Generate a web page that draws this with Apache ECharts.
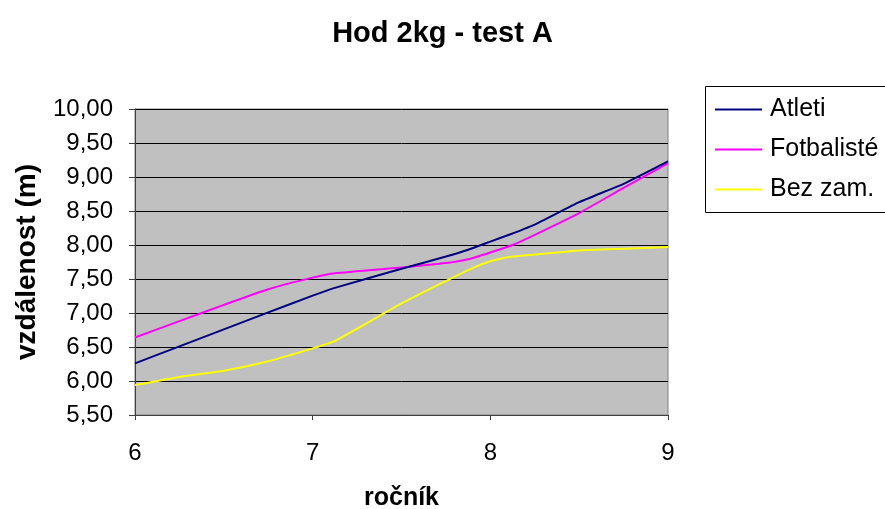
<!DOCTYPE html>
<html>
<head>
<meta charset="utf-8">
<script src="https://cdn.jsdelivr.net/npm/echarts@6/dist/echarts.min.js"></script>
<style>
  html, body { margin: 0; padding: 0; background: #ffffff; }
  #chart { width: 885px; height: 509px; }
</style>
</head>
<body>
<div id="chart"></div>
<script>
// Hod 2kg – průměrné vzdálenosti podle ročníku
const rocnik = [6, 6.25, 6.5, 6.75, 7, 7.125, 7.5, 7.75, 7.875, 8, 8.125, 8.25, 8.5, 8.75, 9];
const atleti = [6.26, 6.51, 6.76, 7.01, 7.255, 7.37, 7.65, 7.83, 7.93, 8.05, 8.17, 8.30, 8.63, 8.90, 9.23];
const fotbaliste = [6.64, 6.88, 7.12, 7.35, 7.52, 7.585, 7.67, 7.735, 7.79, 7.89, 8.00, 8.15, 8.47, 8.84, 9.20];
const bezZam = [5.94, 6.06, 6.15, 6.29, 6.48, 6.59, 7.14, 7.47, 7.63, 7.76, 7.83, 7.86, 7.92, 7.945, 7.97];

const seriesNames = ['Atleti', 'Fotbalisté', 'Bez zam.'];
const seriesColors = ['#000080', '#FF00FF', '#FFFF00'];
const seriesValues = [atleti, fotbaliste, bezZam];

const FONT = '"Liberation Sans", Arial, sans-serif';

const chart = echarts.init(document.getElementById('chart'), null, { renderer: 'canvas' });

chart.setOption({
  animation: false,
  backgroundColor: '#ffffff',
  title: {
    text: 'Hod 2kg - test A',
    left: 'center',
    top: 19,
    padding: 0,
    textStyle: { fontFamily: FONT, fontSize: 29, fontWeight: 'bold', color: '#000' }
  },
  // legend frame runs past the right edge of the canvas
  graphic: [{
    type: 'rect',
    z: 0,
    silent: true,
    shape: { x: 705.5, y: 86.5, width: 220, height: 126 },
    style: { fill: '#ffffff', stroke: '#000000', lineWidth: 1 }
  }],
  legend: {
    orient: 'vertical',
    left: 705,
    top: 86,
    padding: [11, 10, 11, 10],
    itemGap: 15,
    itemWidth: 47,
    itemHeight: 2,
    icon: 'rect',
    borderWidth: 0,
    backgroundColor: 'transparent',
    z: 5,
    textStyle: { fontFamily: FONT, fontSize: 25, color: '#000', lineHeight: 25, padding: [0, 0, 0, 3] },
    data: seriesNames
  },
  grid: {
    left: 135, right: 217, top: 109, bottom: 94,
    outerBoundsMode: 'none',
    containLabel: false,
    show: true,
    backgroundColor: '#C0C0C0',
    borderColor: '#808080',
    borderWidth: 1
  },
  xAxis: {
    type: 'value',
    min: 6, max: 9, interval: 1,
    name: 'ročník',
    nameLocation: 'middle',
    nameGap: 71,
    nameTextStyle: { fontFamily: FONT, fontSize: 25, fontWeight: 'bold', color: '#000' },
    axisLine: { show: true, lineStyle: { color: '#404040', width: 1 } },
    axisTick: { show: true, inside: false, length: 5, lineStyle: { color: '#404040' } },
    axisLabel: { margin: 26, fontFamily: FONT, fontSize: 24, color: '#000' },
    splitLine: { show: false }
  },
  yAxis: {
    type: 'value',
    min: 5.5, max: 10, interval: 0.5,
    name: 'vzdálenost (m)',
    nameLocation: 'middle',
    nameGap: 94,
    nameTextStyle: { fontFamily: FONT, fontSize: 28, fontWeight: 'bold', color: '#000' },
    axisLine: { show: true, lineStyle: { color: '#404040', width: 1 } },
    axisTick: { show: true, inside: false, length: 6, lineStyle: { color: '#404040' } },
    axisLabel: {
      margin: 22, fontFamily: FONT, fontSize: 24, color: '#000',
      formatter: v => v.toFixed(2).replace('.', ',')
    },
    splitLine: { show: true, lineStyle: { color: '#000', width: 1 } }
  },
  series: seriesNames.map((name, i) => ({
    name,
    type: 'line',
    data: rocnik.map((x, k) => [x, seriesValues[i][k]]),
    showSymbol: false,
    smooth: 0.15,
    color: seriesColors[i],
    lineStyle: { width: 2, color: seriesColors[i] },
    z: 3 - i
  }))
});
</script>
</body>
</html>
